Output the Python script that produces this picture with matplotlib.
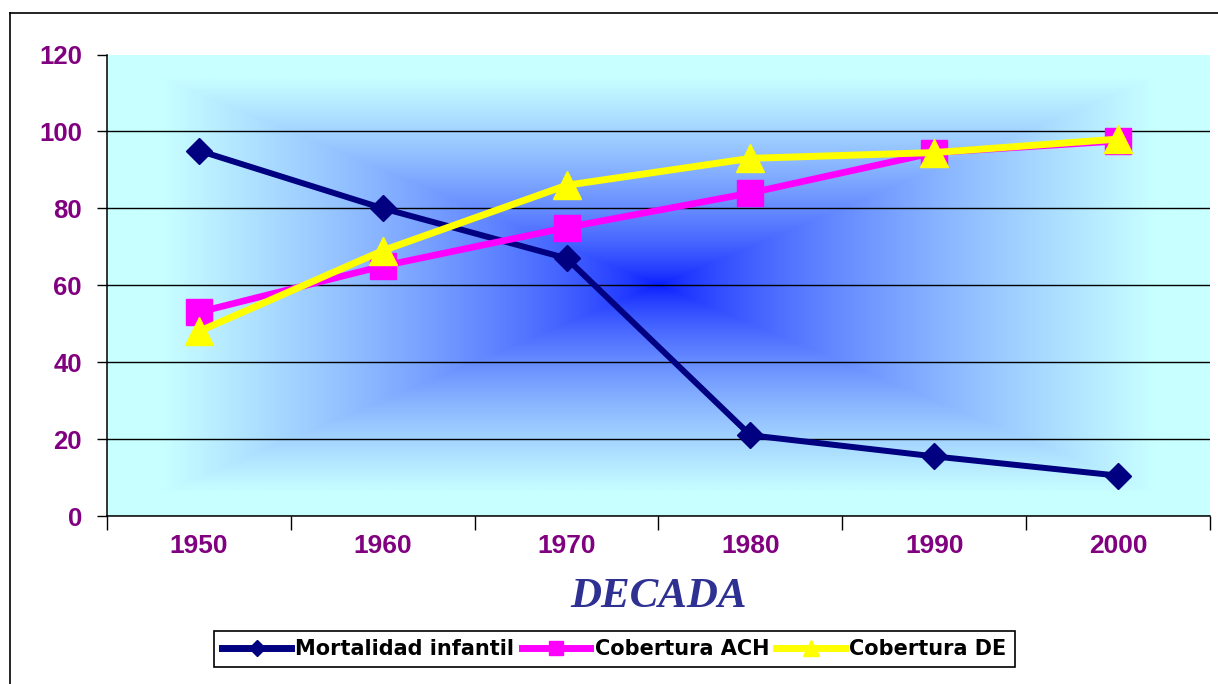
import numpy as np
import matplotlib
matplotlib.use("Agg")
import matplotlib.pyplot as plt
from matplotlib.lines import Line2D

# ---- data ----
decades = ["1950", "1960", "1970", "1980", "1990", "2000"]
mortalidad = [95, 80, 67, 21, 15.5, 10.5]
cobertura_ach = [53, 65, 75, 84, 94.5, 97.5]
cobertura_de = [48, 69, 86, 93, 94.5, 98]
series_names = ["Mortalidad infantil", "Cobertura ACH", "Cobertura DE"]
y_ticks = [0, 20, 40, 60, 80, 100, 120]
x_title = "DECADA"

W, H = 1218, 684
fig = plt.figure(figsize=(W / 100, H / 100), dpi=100)
fig.patch.set_facecolor("white")

left, right, top, bottom = 107, 1210, 54.5, 516
ax = fig.add_axes([left / W, 1 - bottom / H, (right - left) / W, (bottom - top) / H])

x = np.arange(len(decades))
ax.set_xlim(-0.5, len(decades) - 0.5)
ax.set_ylim(0, 120)

# rectangular "from centre" gradient background
nx, ny = 800, 400
u = np.linspace(-1, 1, nx)
v = np.linspace(-1, 1, ny)
U, V = np.meshgrid(u, v)
t = np.maximum(np.abs(U), np.abs(V))
f = np.clip(t / 0.9, 0, 1) ** 0.7
center = np.array([5, 25, 255]) / 255
edge = np.array([200, 255, 255]) / 255
img = center + (edge - center) * f[..., None]
ax.imshow(img, extent=(-0.5, len(decades) - 0.5, 0, 120), aspect="auto",
          zorder=-2, interpolation="bilinear")

# grid
ax.set_axisbelow(True)
ax.set_yticks(y_ticks)
ax.grid(axis="y", color="black", lw=1.0)
ax.get_ygridlines()[-1].set_visible(False)

# series
l1, = ax.plot(x, mortalidad, color="#000080", lw=4.3, marker="D", ms=13,
              mec="#000080", zorder=3, label=series_names[0])
l2, = ax.plot(x, cobertura_ach, color="#FF00FF", lw=4.8, marker="s", ms=19,
              mec="#FF00FF", mew=1, zorder=4, label=series_names[1])
l3, = ax.plot(x, cobertura_de, color="#FFFF00", lw=5, marker="^", ms=20,
              mec="#FFFF00", mew=1, zorder=5, label=series_names[2])

# axes styling
for s in ["top", "right"]:
    ax.spines[s].set_visible(False)
for s in ["left", "bottom"]:
    ax.spines[s].set_color("black")
    ax.spines[s].set_linewidth(1.1)

ax.set_xticks(x)
ax.set_xticklabels(decades)
ax.set_xticks(np.arange(-0.5, len(decades), 1), minor=True)
ax.tick_params(axis="x", which="major", length=0, pad=13, labelsize=19,
               labelcolor="#800080")
ax.tick_params(axis="x", which="minor", length=10, width=1, color="black")
ax.tick_params(axis="y", length=7, width=1, color="black", pad=11,
               labelsize=18.5, labelcolor="#800080")
for lbl in ax.get_xticklabels() + ax.get_yticklabels():
    lbl.set_fontweight("bold")
    lbl.set_family("Liberation Sans")

# axis title
fig.text(659 / W, 1 - 597 / H, x_title, ha="center", va="center",
         family="Liberation Serif", weight="bold", style="italic",
         fontsize=31, color="#2E3192")

# legend
leg = fig.legend(handles=[l1, l2, l3], loc="center",
                 bbox_to_anchor=(614.5 / W, 1 - 649 / H), ncol=3,
                 prop=dict(family="DejaVu Sans", weight="bold", size=15),
                 handlelength=3.3, handletextpad=0.2, columnspacing=0.35,
                 borderpad=0.4, frameon=True, fancybox=False,
                 edgecolor="black", framealpha=1)
leg.get_frame().set_linewidth(1.2)
for h, ms in zip(leg.legend_handles, [8, 10, 11]):
    h.set_markersize(ms)
    h.set_linewidth(5)

# outer chart border (left and top visible)
fig.add_artist(Line2D([10 / W, 10 / W], [0, 1 - 13 / H], transform=fig.transFigure,
                      color="black", lw=1.2))
fig.add_artist(Line2D([10 / W, 1], [1 - 13 / H, 1 - 13 / H], transform=fig.transFigure,
                      color="black", lw=1.2))

fig.savefig("out.png", dpi=100)
